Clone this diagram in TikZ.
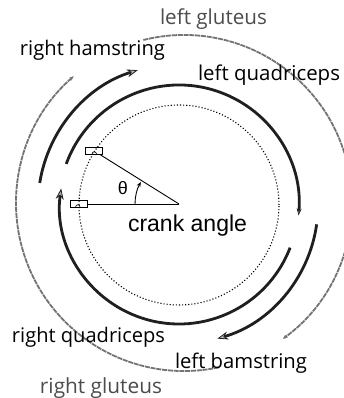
\documentclass[tikz,border=0pt]{standalone}
\usepackage{graphicx}
\usepackage{fontspec}
\setmainfont{Open Sans}
\newfontfamily\helv{Liberation Sans}
\usetikzlibrary{arrows.meta}
\newcommand\wtext[2]{\resizebox{#1}{!}{#2}}
\begin{document}
\begin{tikzpicture}[x=1pt,y=1pt,
  musc/.style={line width=2.8pt, black!88},
  glut/.style={line width=1.8pt, black!55, dash pattern=on 5pt off 0.8pt},
  lbl/.style={font=\fontsize{18}{18}\selectfont, inner sep=0pt},
  bigtip/.style={-{Stealth[length=11pt,width=8pt,line width=0.8pt,fill=black!30]}},
  smalltip/.style={-{Stealth[length=7pt,width=5pt,line width=0.6pt,fill=black!40]}},
  gtip/.style={-{Stealth[length=5pt,width=4pt,fill=black!55]}},
  slider/.style={draw, line width=0.8pt, minimum width=17pt, minimum height=7pt, inner sep=0pt}
]
\useasboundingbox (0,0) rectangle (344,398);
\coordinate (C) at (179,193);
\coordinate (G) at (184,195);
\coordinate (O) at (179,194);

% dotted crank circle
\draw[dotted, line width=1.1pt] (C) circle[radius=100];

% outer gluteus arcs
\draw[glut, gtip] ([shift={(104:168)}]G) arc[start angle=104, end angle=-54, radius=168];
\draw[glut, gtip] ([shift={(-78:168)}]G) arc[start angle=-78, end angle=-229, radius=168];

% muscle arcs
\draw[musc, smalltip] ([shift={(160:120)}]C) arc[start angle=160, end angle=-5, radius=120];
\draw[musc, bigtip] ([shift={(-21:119)}]C) arc[start angle=-21, end angle=-188, radius=119];
\draw[musc, bigtip] ([shift={(171:141)}]C) arc[start angle=171, end angle=107, radius=141];
\draw[musc, bigtip] ([shift={(-8:139)}]C) arc[start angle=-8, end angle=-74, radius=139];

% crank
\node[slider] (p1) at (93.5,247.5) {};
\node[slider] (p2) at (79,194) {};
\draw[line width=0.6pt] ([shift={(3,-3.5)}]p1.center) arc[start angle=0, end angle=180, radius=2.2];
\draw[line width=0.6pt] ([shift={(1,-3)}]p2.center) arc[start angle=0, end angle=180, radius=2.2];
\draw[line width=0.9pt] (O) -- (p1);
\draw[line width=0.9pt] (O) -- (p2);
\draw[line width=0.9pt, -{Stealth[length=5pt,width=4pt]}] ([shift={(180:44)}]O) arc[start angle=180, end angle=150, radius=44];
\node[font=\helv\fontsize{18}{18}\selectfont, inner sep=0pt] (th) at (123,210) {θ};

% labels
\node[lbl, text=black!70] (lg) at (213.5,379) {\wtext{107pt}{left gluteus}};
\node[lbl] (rh) at (92.5,348) {\wtext{145pt}{right hamstring}};
\node[lbl] (lq) at (269,323) {\wtext{142pt}{left quadriceps}};
\node[font=\helv\fontsize{20}{20}\selectfont, inner sep=0pt] (ca) at (187.5,172) {\wtext{119pt}{crank angle}};
\node[lbl] (rq) at (88.5,61) {\wtext{153pt}{right quadriceps}};
\node[lbl] (lh) at (241,35) {\wtext{132pt}{left bamstring}};
\node[lbl, text=black!70] (rg) at (101,10) {\wtext{122pt}{right gluteus}};
\end{tikzpicture}
\end{document}
